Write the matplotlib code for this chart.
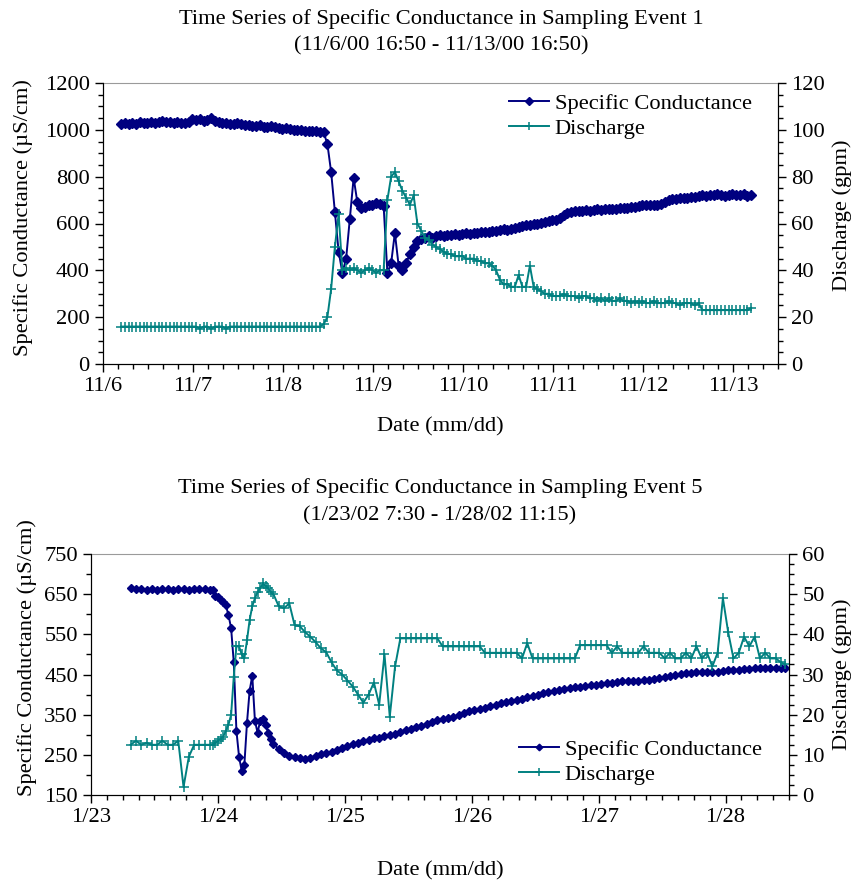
import numpy as np
import matplotlib
matplotlib.use("Agg")
import matplotlib.pyplot as plt
import matplotlib.dates as mdates
from matplotlib.ticker import MultipleLocator, FuncFormatter

plt.rcParams['font.family'] = ['Liberation Serif', 'DejaVu Serif']
plt.rcParams['font.size'] = 16.2

NAVY = '#000080'
TEAL = '#008080'
FS = 16.2

# Event 1: hourly readings from 11/6/00 16:50 (hours elapsed)
hours1 = np.arange(0, 169)
sc1 = [1025, 1028, 1024, 1030, 1027, 1032, 1029, 1031, 1034, 1030,
       1033, 1036, 1032, 1035, 1031, 1034, 1030, 1028, 1033,
       1045, 1040, 1048, 1038, 1044, 1050, 1036,
       1032, 1029, 1031, 1027, 1025, 1028, 1023, 1020, 1022, 1018,
       1016, 1019, 1014, 1012, 1015, 1010, 1008, 1005, 1007, 1003,
       1000, 998, 1001, 996, 994, 997, 993, 991, 989,
       940, 820, 650, 480, 390,
       450, 620, 795, 690,
       665, 672, 680, 678, 688, 684, 675,
       390, 430, 560, 420, 400, 430, 470, 500, 525, 535, 540, 545, 540, 548, 550,
       548, 552, 550, 555, 553, 556, 558, 554, 560, 558, 562, 565,
       563, 567, 570, 572, 575, 573, 578, 582, 585, 590,
       592, 595, 598, 600, 604, 607, 610, 613, 616,
       625, 635, 645, 650, 652, 655, 653, 657,
       655, 658, 660, 657, 662, 660, 664, 663, 667, 665, 668, 670, 672, 675, 677, 679,
       678, 681, 680, 685, 693, 700, 706,
       705, 708, 710, 707, 712, 715, 716, 720,
       718, 722, 720, 724, 721, 719, 723, 725, 720, 722, 726, 718, 721]
q1 = [16, 16, 16, 16, 16, 16, 16, 16, 16, 16,
      16, 16, 16, 16, 16, 16, 16, 16, 16, 16,
      16, 15, 16, 16, 15, 16, 16, 16, 15, 16,
      16, 16, 16, 16, 16, 16, 16, 16, 16, 16,
      16, 16, 16, 16, 16, 16, 16, 16, 16, 16,
      16, 16, 16, 16, 17,
      20, 32, 50, 64, 40,
      41, 40, 41, 40, 39, 40, 41, 40, 39, 40, 40,
      70, 80, 82, 78, 74, 71, 68, 72, 60, 57, 54, 53, 51, 50, 49,
      48, 47, 47, 46, 46, 46, 45, 45, 45, 44, 44, 43, 43, 42, 40,
      36, 34, 34, 33, 33, 38, 33, 33, 42, 33, 32,
      31, 30, 30, 29, 29, 29, 30, 29, 29, 29, 28, 29, 29,
      28, 28, 27, 28, 27, 28, 27, 27, 28, 27, 27, 26, 27, 26, 27,
      26, 26, 27, 26, 26, 26, 27, 26, 26, 25, 26, 26, 26, 25, 26,
      23, 23, 23, 23, 23, 23, 23, 23, 23, 23, 23, 23, 23, 24]

# Event 5: readings from 1/23/02 7:30 (half-hourly through the storm)
hours5 = np.concatenate([np.arange(0, 16), np.arange(15.5, 27.01, 0.5),
                         np.arange(28, 124), [123.75]])
sc5 = [666, 664, 663, 660, 662, 661, 663, 662, 660, 662, 663, 661, 662, 663, 662, 661,
       660, 645, 642, 635, 631, 622, 598, 565, 480, 310, 245, 210,
       225, 330, 410, 447, 335, 305, 335, 340, 325, 305, 290, 278,
       264, 255, 248, 244, 241, 240, 241, 246, 252, 255, 258, 262,
       267, 271, 276, 280, 284, 288, 291, 293, 296, 299, 303, 307,
       311, 315, 319, 323, 327, 331, 336, 338, 341, 343, 348, 353,
       358, 362, 365, 367, 371, 374, 378, 381, 383, 386, 390, 393,
       396, 400, 403, 406, 409, 412, 414, 417, 419, 420, 421, 423,
       425, 427, 429, 430, 432, 433, 434, 435, 434, 436, 437, 439,
       441, 444, 446, 449, 451, 453, 454, 455, 456, 457, 456, 457,
       458, 460, 461, 462, 463, 464, 465, 466, 466, 467, 466, 467,
       465]
q5 = [12.5, 13.5, 12.5, 13, 12.5, 12.5, 13.5, 12.5, 12.5, 13.5, 2, 9.5, 12.5, 12.5, 12.5, 12.5,
      12.5, 13, 13.5, 14, 14.5, 16, 17.5, 20, 29.5, 37, 37, 35,
      34, 38.5, 43.6, 47, 49, 50.5, 51.5, 52.7, 52, 51.5, 50.5, 50,
      47, 46.5, 47.7, 42.3, 42, 40.5, 39.4, 38, 36.5, 35.5, 33, 31,
      30, 28.5, 27, 25, 23, 25, 28, 22.5, 35, 19.5, 32, 39,
      39, 39, 39, 39, 39, 39, 39,
      37, 37, 37, 37, 37, 37, 37, 37,
      35.4, 35.4, 35.4, 35.4, 35.4, 35.4, 35.4,
      34, 37.8,
      34, 34, 34, 34, 34, 34, 34, 34, 34,
      37.3, 37.3, 37.3, 37.3, 37.3, 37.3,
      35.4, 37, 35.4, 35.4, 35.4, 35.4, 37, 35.4, 35.4, 35.4,
      34, 35.4, 34, 34, 35.4, 34, 37, 34, 35.4, 32, 35.4, 49,
      40.5, 34, 35.4, 39.4, 37, 39.4, 34, 35.4, 34, 34, 33,
      32.5]


def to_time(start, hours):
    mins = np.round(np.asarray(hours) * 60).astype(int)
    return np.datetime64(start) + mins.astype('timedelta64[m]')


def md_label(x, pos):
    d = mdates.num2date(x)
    return f"{d.month}/{d.day}"


def draw_event(ax, t, sc, q, yticks_l, ylim_r, step_r, leg_loc, leg_anchor, ms_sc, ms_q):
    ax.plot(t, sc, color=NAVY, marker='D', ms=ms_sc, lw=1.4, label='Specific Conductance')
    axr = ax.twinx()
    axr.plot(t, q, color=TEAL, marker='+', ms=ms_q, mew=1.1, lw=1.4, label='Discharge')

    ax.set_ylim(yticks_l[0], yticks_l[-1])
    ax.set_yticks(yticks_l)
    ax.yaxis.set_minor_locator(MultipleLocator(50))
    axr.set_ylim(*ylim_r)
    axr.yaxis.set_major_locator(MultipleLocator(step_r))
    axr.yaxis.set_minor_locator(MultipleLocator(step_r / 4))

    for a in (ax, axr):
        a.tick_params(which='major', direction='out', length=6, width=1, labelsize=FS)
        a.tick_params(which='minor', direction='out', length=3.5, width=1)
        a.spines['top'].set_color('#9a9a9a')
    axr.spines['top'].set_visible(False)

    ax.set_ylabel('Specific Conductance (µS/cm)', fontsize=FS)
    axr.set_ylabel('Discharge (gpm)', fontsize=FS)
    ax.set_xlabel('Date (mm/dd)', fontsize=FS)

    handles = ax.get_lines() + axr.get_lines()
    axr.legend(handles, [h.get_label() for h in handles], loc=leg_loc,
               bbox_to_anchor=leg_anchor, frameon=False, fontsize=FS,
               borderpad=0, borderaxespad=0, labelspacing=0.2,
               handlelength=1.8, handletextpad=0.25, markerscale=0.8)
    return axr


fig = plt.figure(figsize=(8.57, 8.85), dpi=100)

# Sampling event 1
ax1 = fig.add_axes([103 / 857, 1 - 364 / 885, 675 / 857, 281 / 885])
t1 = to_time('2000-11-06T16:50', hours1)
ax1r = draw_event(ax1, t1, sc1, q1, np.arange(0, 1201, 200), (0, 120), 20,
                  'upper right', (0.961, 0.965), 4.6, 7.5)
ax1.set_xlim(np.datetime64('2000-11-06T12:00'), np.datetime64('2000-11-14T00:00'))
ax1.xaxis.set_major_locator(mdates.HourLocator(byhour=[12]))
ax1.xaxis.set_minor_locator(mdates.HourLocator(byhour=range(0, 24, 4)))
ax1.xaxis.set_major_formatter(FuncFormatter(md_label))
ax1.yaxis.set_label_coords(-0.104, 0.52)
ax1r.yaxis.set_label_coords(1.08, 0.53)
ax1.xaxis.set_label_coords(0.5, -0.19)
fig.text(441 / 857, 1 - 19 / 885, 'Time Series of Specific Conductance in Sampling Event 1',
         ha='center', va='center', fontsize=FS)
fig.text(441 / 857, 1 - 46 / 885, '(11/6/00 16:50 - 11/13/00 16:50)',
         ha='center', va='center', fontsize=FS)

# Sampling event 5
ax5 = fig.add_axes([91 / 857, 1 - 795 / 885, 698 / 857, 241 / 885])
t5 = to_time('2002-01-23T07:30', hours5)
ax5r = draw_event(ax5, t5, sc5, q5, np.arange(150, 751, 100), (0, 60), 10,
                  'lower right', (0.961, 0.04), 4.2, 7.5)
ax5.set_xlim(np.datetime64('2002-01-23T00:00'), np.datetime64('2002-01-28T12:00'))
ax5.xaxis.set_major_locator(mdates.DayLocator())
ax5.xaxis.set_minor_locator(mdates.HourLocator(byhour=range(0, 24, 3)))
ax5.xaxis.set_major_formatter(FuncFormatter(md_label))
ax5.yaxis.set_label_coords(-0.077, 0.57)
ax5r.yaxis.set_label_coords(1.062, 0.5)
ax5.xaxis.set_label_coords(0.5, -0.275)
fig.text(440 / 857, 1 - 488 / 885, 'Time Series of Specific Conductance in Sampling Event 5',
         ha='center', va='center', fontsize=FS)
fig.text(440 / 857, 1 - 516 / 885, '(1/23/02 7:30 - 1/28/02 11:15)',
         ha='center', va='center', fontsize=FS)

fig.savefig('out.png', dpi=100)
